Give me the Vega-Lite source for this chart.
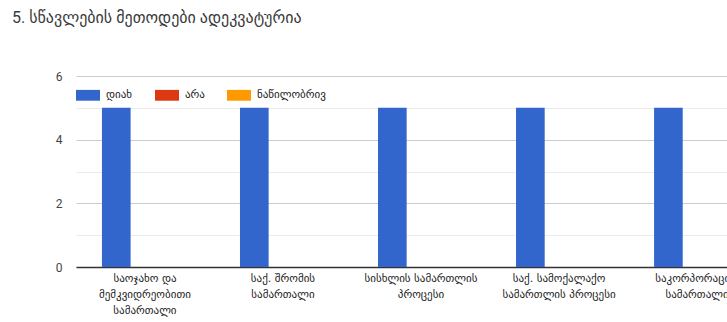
{
  "$schema": "https://vega.github.io/schema/vega-lite/v6.json",
  "autosize": {"type": "none"},
  "padding": {"left": 76, "top": 76, "right": 0, "bottom": 55},
  "width": 690,
  "height": 191,
  "background": "white",
  "title": {
    "text": "5. სწავლების მეთოდები ადეკვატურია",
    "anchor": "start",
    "frame": "group",
    "dx": -64,
    "offset": 44,
    "fontSize": 16,
    "fontWeight": "normal",
    "color": "#3a3a3a",
    "font": "Roboto, DejaVu Sans"
  },
  "data": {
    "values": [
      {"subject": "საოჯახო და მემკვიდრეობითი სამართალი", "answer": "დიახ", "count": 5},
      {"subject": "საოჯახო და მემკვიდრეობითი სამართალი", "answer": "არა", "count": 0},
      {"subject": "საოჯახო და მემკვიდრეობითი სამართალი", "answer": "ნაწილობრივ", "count": 0},
      {"subject": "საქ. შრომის სამართალი", "answer": "დიახ", "count": 5},
      {"subject": "საქ. შრომის სამართალი", "answer": "არა", "count": 0},
      {"subject": "საქ. შრომის სამართალი", "answer": "ნაწილობრივ", "count": 0},
      {"subject": "სისხლის სამართლის პროცესი", "answer": "დიახ", "count": 5},
      {"subject": "სისხლის სამართლის პროცესი", "answer": "არა", "count": 0},
      {"subject": "სისხლის სამართლის პროცესი", "answer": "ნაწილობრივ", "count": 0},
      {"subject": "საქ. სამოქალაქო სამართლის პროცესი", "answer": "დიახ", "count": 5},
      {"subject": "საქ. სამოქალაქო სამართლის პროცესი", "answer": "არა", "count": 0},
      {"subject": "საქ. სამოქალაქო სამართლის პროცესი", "answer": "ნაწილობრივ", "count": 0},
      {"subject": "საკორპორაციო სამართალი", "answer": "დიახ", "count": 5},
      {"subject": "საკორპორაციო სამართალი", "answer": "არა", "count": 0},
      {"subject": "საკორპორაციო სამართალი", "answer": "ნაწილობრივ", "count": 0}
    ]
  },
  "mark": {"type": "bar"},
  "encoding": {
    "x": {
      "field": "subject",
      "type": "nominal",
      "sort": null,
      "scale": {"paddingInner": 0.377, "paddingOuter": 0.188},
      "axis": {
        "title": null,
        "labelAngle": 0,
        "ticks": false,
        "domainColor": "#333333",
        "domainWidth": 1.5,
        "labelPadding": 5,
        "labelFontSize": 11,
        "labelColor": "#222222",
        "labelFont": "DejaVu Sans",
        "labelLineHeight": 16,
        "labelLimit": 200,
        "labelExpr": "datum.label == 'საოჯახო და მემკვიდრეობითი სამართალი' ? ['საოჯახო და', 'მემკვიდრეობითი', 'სამართალი'] : datum.label == 'საქ. შრომის სამართალი' ? ['საქ. შრომის', 'სამართალი'] : datum.label == 'სისხლის სამართლის პროცესი' ? ['სისხლის სამართლის', 'პროცესი'] : datum.label == 'საქ. სამოქალაქო სამართლის პროცესი' ? ['საქ. სამოქალაქო', 'სამართლის პროცესი'] : ['საკორპორაციო', 'სამართალი']"
      }
    },
    "xOffset": {
      "field": "answer",
      "type": "nominal",
      "sort": ["დიახ", "არა", "ნაწილობრივ"],
      "scale": {"paddingInner": 0, "paddingOuter": 0}
    },
    "y": {
      "field": "count",
      "type": "quantitative",
      "scale": {"domain": [0, 6], "nice": false},
      "axis": {
        "title": null,
        "values": [0, 1, 2, 3, 4, 5, 6],
        "labelExpr": "datum.value % 2 == 0 ? datum.label : ''",
        "ticks": false,
        "domain": false,
        "labelPadding": 14,
        "labelFontSize": 12,
        "labelColor": "#444444",
        "labelFont": "Roboto",
        "gridColor": {"condition": {"test": "datum.value % 2 == 0", "value": "#cccccc"}, "value": "#ebebeb"},
        "gridWidth": 1
      }
    },
    "color": {
      "field": "answer",
      "type": "nominal",
      "sort": ["დიახ", "არა", "ნაწილობრივ"],
      "scale": {"domain": ["დიახ", "არა", "ნაწილობრივ"], "range": ["#3366cc", "#dc3912", "#ff9900"]},
      "legend": {
        "title": null,
        "orient": "none",
        "legendX": 0,
        "legendY": 7,
        "direction": "horizontal",
        "symbolType": "M-1,-0.45H1V0.45H-1Z",
        "symbolSize": 576,
        "symbolStrokeWidth": 0,
        "symbolOpacity": 1,
        "labelFontSize": 11,
        "labelColor": "#222222",
        "labelFont": "DejaVu Sans",
        "labelOffset": 6,
        "columnPadding": 22
      }
    }
  },
  "config": {
    "view": {"stroke": null}
  }
}
